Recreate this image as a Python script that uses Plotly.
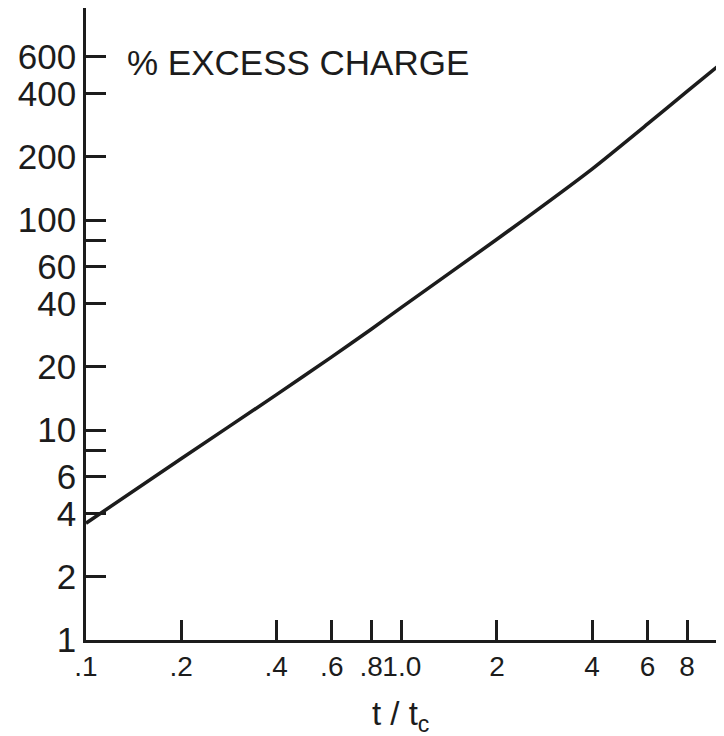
import plotly.graph_objects as go

# data (log-log)
t_ratio = [0.1, 0.2, 0.4, 0.6, 0.8, 1.0, 2.0, 4.0, 6.0, 8.0, 10.3]
excess_charge = [3.6, 7.3, 14.7, 22.3, 30.2, 38.5, 81, 175, 287, 410, 560]

x_tickvals = [0.1, 0.2, 0.4, 0.6, 0.8, 1.0, 2, 4, 6, 8]
x_ticktext = [".1", ".2", ".4", ".6", ".8", "1.0", "2", "4", "6", "8"]
y_tickvals = [1, 2, 4, 6, 8, 10, 20, 40, 60, 80, 100, 200, 400, 600]
y_ticktext = ["1", "2", "4", "6", "", "10", "20", "40", "60", "", "100", "200", "400", "600"]

ink = "#1c1c1c"
font = dict(family="Liberation Sans, Arial, sans-serif", size=32, color=ink)

fig = go.Figure(go.Scatter(
    x=t_ratio, y=excess_charge, mode="lines",
    line=dict(color=ink, width=3.5, shape="spline", smoothing=0.5),
    hoverinfo="skip", showlegend=False,
))

fig.update_layout(
    width=716, height=728,
    margin=dict(l=78, r=0, t=0, b=96),
    paper_bgcolor="white", plot_bgcolor="white",
    font=font,
    xaxis=dict(
        type="log", range=[-1, 1.02], automargin=False,
        tickvals=x_tickvals, ticktext=x_ticktext, tickangle=0,
        ticks="inside", ticklen=20, tickwidth=2.5, tickcolor=ink,
        showline=True, linecolor=ink, linewidth=2.5,
        showgrid=False, zeroline=False,
        tickfont=dict(size=28),
    ),
    yaxis=dict(
        type="log", range=[0, 3.01], automargin=False,
        tickvals=y_tickvals, ticktext=y_ticktext,
        ticks="inside", ticklen=20, tickwidth=2.5, tickcolor=ink,
        showline=True, linecolor=ink, linewidth=2.5,
        showgrid=False, zeroline=False,
        tickfont=dict(size=35),
    ),
    annotations=[
        dict(
            text="% EXCESS CHARGE", xref="paper", yref="paper",
            x=(125 - 86) / 638, y=(640 - 62) / 632, xanchor="left", yanchor="middle",
            showarrow=False, font=dict(size=35),
        ),
        dict(
            text="t / t<sub>c</sub>", xref="paper", yref="paper",
            x=(400 - 86) / 638, y=-(693 - 640) / 632, xanchor="center", yanchor="top",
            showarrow=False, font=dict(size=33),
        ),
    ],
)

fig.write_html("out.html")
